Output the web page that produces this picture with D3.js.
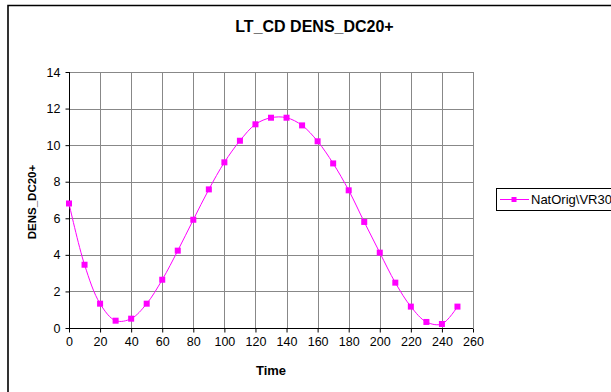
<!DOCTYPE html>
<html><head><meta charset="utf-8">
<script src="https://cdn.jsdelivr.net/npm/d3@7"></script>
<style>
html,body{margin:0;padding:0;background:#fff;overflow:hidden;}
svg{display:block;font-family:"Liberation Sans",Arial,sans-serif;}
</style></head>
<body>
<svg id="c" width="611" height="392"></svg>
<script>
const title = "LT_CD DENS_DC20+";
const xTitle = "Time";
const yTitle = "DENS_DC20+";
const seriesName = "NatOrig\\VR30";
const times = [0,10,20,30,40,50,60,70,80,90,100,110,120,130,140,150,160,170,180,190,200,210,220,230,240,250];
const values = [6.81,3.46,1.33,0.40,0.51,1.33,2.64,4.23,5.92,7.58,9.06,10.24,11.14,11.50,11.50,11.08,10.21,9.00,7.53,5.80,4.12,2.48,1.17,0.33,0.22,1.17];
const xTicks = [0,20,40,60,80,100,120,140,160,180,200,220,240,260];
const yTicks = [0,2,4,6,8,10,12,14];

const svg = d3.select("#c");
const L = 69, R = 473, T = 72, B = 328;
const x = d3.scaleLinear().domain([0,260]).range([L,R]);
const y = d3.scaleLinear().domain([0,14]).range([B,T]);

// outer chart-area border (cropped on right and bottom)
svg.append("path").attr("d","M8,392V5.5H611").attr("fill","none")
  .attr("stroke","#000").attr("stroke-width",1.6);

// grid
svg.append("g").selectAll("line").data(xTicks.slice(1)).join("line")
  .attr("x1",d=>Math.round(x(d))+0.5).attr("x2",d=>Math.round(x(d))+0.5)
  .attr("y1",T).attr("y2",B).attr("stroke","#888");
svg.append("g").selectAll("line").data(yTicks.slice(1)).join("line")
  .attr("y1",d=>Math.round(y(d))+0.5).attr("y2",d=>Math.round(y(d))+0.5)
  .attr("x1",L).attr("x2",R).attr("stroke","#888");

// axes
const xAxis = d3.axisBottom(x).tickValues(xTicks).tickSize(4).tickPadding(5);
const gx = svg.append("g").attr("transform",`translate(0,${B+0.5})`).call(xAxis);
const yAxis = d3.axisLeft(y).tickValues(yTicks).tickSize(4).tickPadding(5);
const gy = svg.append("g").attr("transform",`translate(${L+0.5},0)`).call(yAxis);
[gx,gy].forEach(g=>{
  g.select(".domain").attr("stroke","#000");
  g.selectAll(".tick line").attr("stroke","#000");
  g.selectAll("text").attr("fill","#000").style("font-size","12.5px").style("font-family","Liberation Sans, Arial, sans-serif");
});
gx.select(".domain").attr("d",`M${L},0H${R}`);
gy.select(".domain").attr("d",`M0,${B}V${T}`);

// line
const pts = times.map((t,i)=>[t,values[i]]);
const line = d3.line().x(d=>x(d[0])).y(d=>y(d[1])).curve(d3.curveCatmullRom.alpha(0.5));
svg.append("path").datum(pts).attr("d",line).attr("fill","none").attr("stroke","#FF00FF").attr("stroke-width",1);
svg.append("g").selectAll("rect").data(pts).join("rect")
  .attr("x",d=>x(d[0])-3).attr("y",d=>y(d[1])-3).attr("width",6).attr("height",6)
  .attr("fill","#FF00FF");

// titles
svg.append("text").attr("x",314.5).attr("y",32).attr("text-anchor","middle")
  .style("font-size","16px").style("font-weight","bold").text(title);
svg.append("text").attr("x",(L+R)/2).attr("y",375).attr("text-anchor","middle")
  .style("font-size","13px").style("font-weight","bold").text(xTitle);
svg.append("text").attr("transform",`translate(36,202) rotate(-90)`).attr("text-anchor","middle")
  .style("font-size","11.5px").style("font-weight","bold").text(yTitle);

// legend
const lg = svg.append("g");
lg.append("rect").attr("x",496.5).attr("y",188.5).attr("width",130).attr("height",22)
  .attr("fill","#fff").attr("stroke","#000");
lg.append("line").attr("x1",500).attr("x2",529).attr("y1",199.5).attr("y2",199.5).attr("stroke","#FF00FF");
lg.append("rect").attr("x",511.5).attr("y",197).attr("width",5).attr("height",5).attr("fill","#FF00FF");
lg.append("text").attr("x",531).attr("y",204).style("font-size","13px").text(seriesName);
</script>
</body></html>
